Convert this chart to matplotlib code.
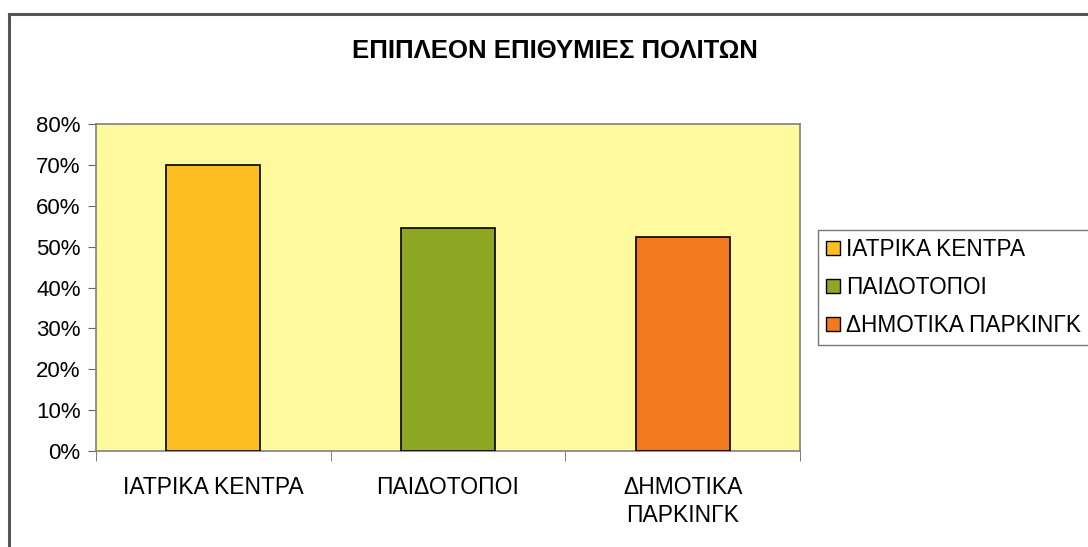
import matplotlib
matplotlib.use("Agg")
import matplotlib.pyplot as plt
from matplotlib.patches import Patch
from matplotlib.lines import Line2D
from matplotlib.ticker import FixedLocator, PercentFormatter

plt.rcParams['font.family'] = ['Liberation Sans', 'DejaVu Sans']

categories = ["ΙΑΤΡΙΚΑ ΚΕΝΤΡΑ", "ΠΑΙΔΟΤΟΠΟΙ", "ΔΗΜΟΤΙΚΑ\nΠΑΡΚΙΝΓΚ"]
legend_labels = ["ΙΑΤΡΙΚΑ ΚΕΝΤΡΑ", "ΠΑΙΔΟΤΟΠΟΙ", "ΔΗΜΟΤΙΚΑ ΠΑΡΚΙΝΓΚ"]
values = [70.0, 54.5, 52.3]
colors = ["#FDBE22", "#8FA823", "#F2791E"]
title = "ΕΠΙΠΛΕΟΝ ΕΠΙΘΥΜΙΕΣ ΠΟΛΙΤΩΝ"
yticks = [0, 10, 20, 30, 40, 50, 60, 70, 80]

W, H = 1088, 547
fig = plt.figure(figsize=(W / 100, H / 100), dpi=100)
fig.patch.set_facecolor("white")

# outer chart border (cut off on right and bottom)
fig.add_artist(Line2D([9 / W, 1.0], [1 - 14 / H, 1 - 14 / H], color="#555555", lw=2.2))
fig.add_artist(Line2D([9 / W, 9 / W], [0, 1 - 14 / H], color="#555555", lw=2.2))

left, right, top, bottom = 96, 800, 124, 451
ax = fig.add_axes([left / W, 1 - bottom / H, (right - left) / W, (bottom - top) / H])
ax.set_facecolor("#FFFA9E")

x = range(len(categories))
ax.bar(x, values, width=0.4, color=colors, edgecolor="black", linewidth=1.2, zorder=3)

ax.set_xlim(-0.5, len(categories) - 0.5)
ax.set_ylim(0, 80)
ax.set_yticks(yticks)
ax.yaxis.set_major_formatter(PercentFormatter(decimals=0))
ax.tick_params(axis="y", labelsize=16, length=6, color="#666666", pad=5)

ax.set_xticks(list(x))
ax.set_xticklabels(categories, fontsize=16.5, linespacing=1.3)
ax.tick_params(axis="x", which="major", length=0, pad=18)
ax.xaxis.set_minor_locator(FixedLocator([-0.5, 0.5, 1.5, 2.5]))
ax.tick_params(axis="x", which="minor", length=7, color="#666666")

for s in ax.spines.values():
    s.set_color("#808080")
    s.set_linewidth(1.2)

fig.text(555 / W, 1 - 51 / H, title, ha="center", va="center",
         fontsize=18.5, fontweight="bold")

handles = [Patch(facecolor=c, edgecolor="black", linewidth=1.0) for c in colors]
leg = fig.legend(handles, legend_labels, loc="upper left",
                 bbox_to_anchor=(818 / W, 1 - 230 / H), fontsize=16.3,
                 frameon=True, fancybox=False, handlelength=0.6, handleheight=0.6,
                 handletextpad=0.3, labelspacing=0.66, borderpad=0.35,
                 borderaxespad=0)
leg.get_frame().set_edgecolor("#555555")
leg.get_frame().set_linewidth(1.0)

fig.savefig("out.png", dpi=100, facecolor="white")
